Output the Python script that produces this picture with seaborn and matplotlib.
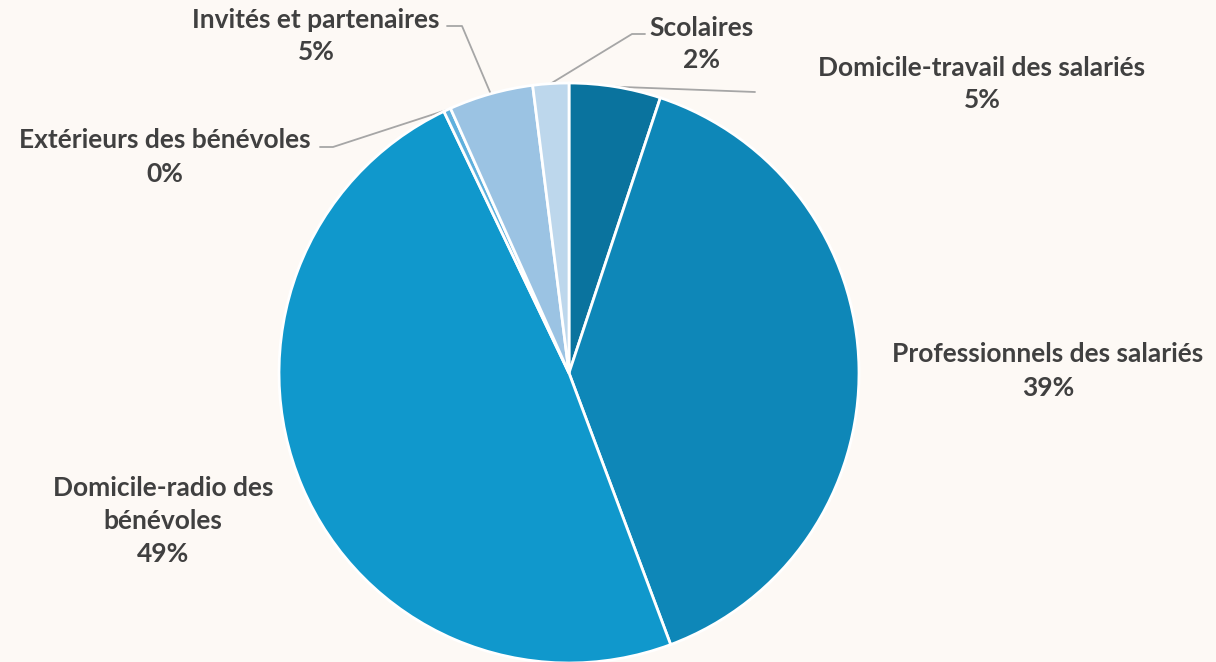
import numpy as np
import seaborn as sns
import matplotlib.pyplot as plt

# Slice data (clockwise from 12 o'clock)
categories = ["Domicile-travail des salariés", "Professionnels des salariés",
              "Domicile-radio des bénévoles", "Extérieurs des bénévoles",
              "Invités et partenaires", "Scolaires"]
shares = [5.1, 39.2, 48.6, 0.4, 4.7, 2.0]
pct_labels = ["5%", "39%", "49%", "0%", "5%", "2%"]
label_text = ["Domicile-travail des salariés", "Professionnels des salariés",
              "Domicile-radio des\nbénévoles", "Extérieurs des bénévoles",
              "Invités et partenaires", "Scolaires"]
colors = ["#0a739e", "#0e87b8", "#1098cc", "#5fb0dd", "#9bc3e3", "#bdd7ec"]

sns.set_style("white")
plt.rcParams['font.family'] = ['Lato', 'DejaVu Sans']

W, H = 1216, 662
bg = "#fdf9f5"
fig = plt.figure(figsize=(W / 100, H / 100), dpi=100, facecolor=bg)
ax = fig.add_axes([0, 0, 1, 1])
ax.set_facecolor(bg)

cx, cy, r = 569, H - 373, 290
wedges, _ = ax.pie(shares, colors=colors, startangle=90, counterclock=False,
                   center=(cx, cy), radius=r, frame=True,
                   wedgeprops=dict(edgecolor="white", linewidth=2))
ax.set_xlim(0, W)
ax.set_ylim(0, H)
ax.set_aspect("equal")
ax.axis("off")

# label placement in image pixel coords (x, y of text centre), and leader elbows
label_pos = [(982, 84), (1048, 371), (163, 521), (165, 157), (316, 36), (702, 44)]
elbows = [
    [(755, 92)],
    None,
    None,
    [(333, 147), (320, 147)],
    [(462, 26), (447, 26)],
    [(632, 34), (645, 34)],
]

txt_color = "#404040"
for w, lab, pct, (lx, ly), elb in zip(wedges, label_text, pct_labels, label_pos, elbows):
    ax.text(lx, H - ly, lab + "\n" + pct, ha="center", va="center",
            fontsize=19, fontweight="bold", color=txt_color, linespacing=1.45)
    if elb:
        ang = np.deg2rad((w.theta1 + w.theta2) / 2)
        sx, sy = cx + r * np.cos(ang), cy + r * np.sin(ang)
        xs = [sx] + [p[0] for p in elb]
        ys = [sy] + [H - p[1] for p in elb]
        ax.plot(xs, ys, color="#a6a6a6", linewidth=1.3, zorder=0.5)

fig.savefig("out.png", dpi=100, facecolor=bg)
